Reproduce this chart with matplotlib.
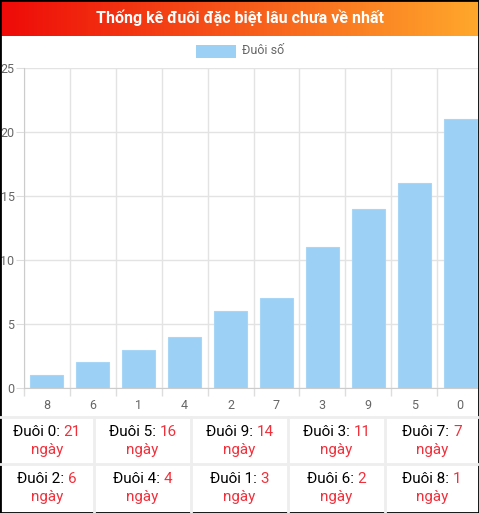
import numpy as np
import matplotlib
matplotlib.use("Agg")
import matplotlib.pyplot as plt
from matplotlib.patches import Rectangle

plt.rcParams['font.family'] = ['Roboto', 'DejaVu Sans']

# data
tails = ['8', '6', '1', '4', '2', '7', '3', '9', '5', '0']
days = [1, 2, 3, 4, 6, 7, 11, 14, 16, 21]
series_name = 'Đuôi số'
title = 'Thống kê đuôi đặc biệt lâu chưa về nhất'

W, H = 479, 513
fig = plt.figure(figsize=(W / 100, H / 100), dpi=100)

def fx(px):
    return px / W

def fy(py):
    return 1 - py / H

# title bar with gradient
tax = fig.add_axes([0, fy(36), 1, 36 / H])
grad = np.linspace(0, 1, 256)
c0 = np.array([238, 10, 8]) / 255
c1 = np.array([255, 168, 44]) / 255
img = c0[None, :] + (c1 - c0)[None, :] * grad[:, None]
tax.imshow(img[None, :, :], aspect='auto', extent=[0, 1, 0, 1])
tax.set_axis_off()
fig.text(0.5, fy(18), title, color='white', fontsize=11.5, fontweight='bold',
         ha='center', va='center')

# legend
fig.patches.append(Rectangle((fx(196), fy(58)), fx(40), 13 / H, transform=fig.transFigure,
                             facecolor='#9dd0f5', edgecolor='none'))
fig.text(fx(242), fy(51), series_name, color='#666666', fontsize=9, ha='left', va='center')

# bar chart
ax = fig.add_axes([fx(24), fy(388), fx(483 - 24), 320 / H])
x = np.arange(len(tails))
ax.bar(x, days, width=0.72, color='#9dd0f5', edgecolor='#a8d6f7', linewidth=0.8, zorder=2)
ax.set_xlim(-0.5, len(tails) - 0.5)
ax.set_ylim(0, 25)
ax.set_yticks(np.arange(0, 26, 5))
ax.set_xticks(np.arange(-0.5, len(tails), 1))
ax.set_xticklabels([])
ax.set_xticks(x, minor=True)
ax.set_xticklabels(tails, minor=True)
ax.tick_params(axis='x', which='major', length=5.8, color='#dddddd', width=1)
ax.tick_params(axis='x', which='minor', length=0, pad=8, labelsize=9, labelcolor='#666666')
ax.tick_params(axis='y', length=5.8, color='#dddddd', pad=1, labelsize=9, labelcolor='#666666')
ax.grid(True, which='major', color='#e3e3e3', linewidth=1, zorder=0)
for s in ['top', 'right']:
    ax.spines[s].set_visible(False)
for s in ['left', 'bottom']:
    ax.spines[s].set_color('#cccccc')
ax.set_axisbelow(True)

# summary table
order = sorted(range(len(tails)), key=lambda i: -days[i])
red = '#f0313c'
col_edges = [0, 94, 191, 288, 385, 479]
row_edges = [417, 464, 513]
for xe in col_edges[1:-1]:
    fig.add_artist(plt.Line2D([fx(xe), fx(xe)], [fy(417), fy(513)], color='#eeeeee', linewidth=2))
for ye in row_edges[:-1]:
    fig.add_artist(plt.Line2D([0, 1], [fy(ye), fy(ye)], color='#eeeeee', linewidth=2))

fig.canvas.draw()
renderer = fig.canvas.get_renderer()
for k, i in enumerate(order):
    r, c = divmod(k, 5)
    cx = (col_edges[c] + col_edges[c + 1]) / 2
    top = row_edges[r]
    t1 = fig.text(0, fy(top + 15), f'Đuôi {tails[i]}: ', color='black', fontsize=11,
                  ha='left', va='center')
    t2 = fig.text(0, fy(top + 15), str(days[i]), color=red, fontsize=11,
                  ha='left', va='center')
    w1 = t1.get_window_extent(renderer).width
    w2 = t2.get_window_extent(renderer).width
    start = cx - (w1 + w2) / 2
    t1.set_x(fx(start))
    t2.set_x(fx(start + w1))
    fig.text(fx(cx), fy(top + 33), 'ngày', color=red, fontsize=11, ha='center', va='center')

# outer border
fig.patches.append(Rectangle((0, 0), 1, 1, transform=fig.transFigure, fill=False,
                             edgecolor='black', linewidth=2))

fig.savefig('out.png', dpi=100)
